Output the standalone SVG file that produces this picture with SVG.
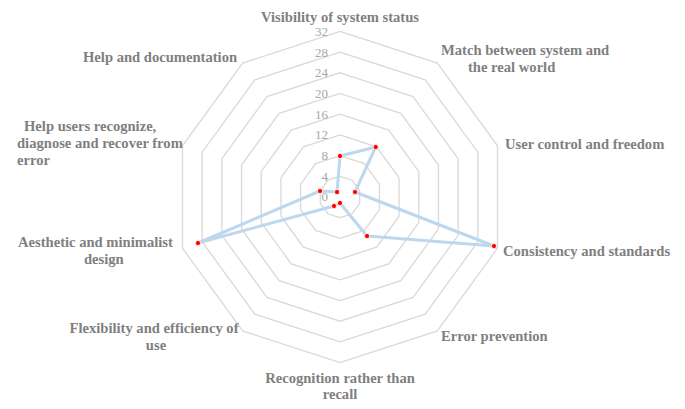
<svg xmlns="http://www.w3.org/2000/svg" width="685" height="409" viewBox="0 0 685 409">
<style>
.ring{fill:none;stroke:#d9d9d9;stroke-width:1.3;vector-effect:non-scaling-stroke}
.lbl{font-family:"Liberation Serif",serif;font-weight:bold;font-size:14.6px;fill:#7f7f7f}
.tick{font-family:"Liberation Serif",serif;font-size:13px;fill:#a6a6a6;text-anchor:end}
.dot{fill:#ff0000;stroke:#fff;stroke-width:0.8}
</style>
<rect width="685" height="409" fill="#fff"/>
<g id="grid" transform="translate(340,197)">
<polygon class="ring" transform="scale(20.7)" points="0,-1 .5878,-.809 .9511,-.309 .9511,.309 .5878,.809 0,1 -.5878,.809 -.9511,.309 -.9511,-.309 -.5878,-.809"/>
<polygon class="ring" transform="scale(41.4)" points="0,-1 .5878,-.809 .9511,-.309 .9511,.309 .5878,.809 0,1 -.5878,.809 -.9511,.309 -.9511,-.309 -.5878,-.809"/>
<polygon class="ring" transform="scale(62.1)" points="0,-1 .5878,-.809 .9511,-.309 .9511,.309 .5878,.809 0,1 -.5878,.809 -.9511,.309 -.9511,-.309 -.5878,-.809"/>
<polygon class="ring" transform="scale(82.8)" points="0,-1 .5878,-.809 .9511,-.309 .9511,.309 .5878,.809 0,1 -.5878,.809 -.9511,.309 -.9511,-.309 -.5878,-.809"/>
<polygon class="ring" transform="scale(103.5)" points="0,-1 .5878,-.809 .9511,-.309 .9511,.309 .5878,.809 0,1 -.5878,.809 -.9511,.309 -.9511,-.309 -.5878,-.809"/>
<polygon class="ring" transform="scale(124.2)" points="0,-1 .5878,-.809 .9511,-.309 .9511,.309 .5878,.809 0,1 -.5878,.809 -.9511,.309 -.9511,-.309 -.5878,-.809"/>
<polygon class="ring" transform="scale(144.9)" points="0,-1 .5878,-.809 .9511,-.309 .9511,.309 .5878,.809 0,1 -.5878,.809 -.9511,.309 -.9511,-.309 -.5878,-.809"/>
<polygon class="ring" transform="scale(165.6)" points="0,-1 .5878,-.809 .9511,-.309 .9511,.309 .5878,.809 0,1 -.5878,.809 -.9511,.309 -.9511,-.309 -.5878,-.809"/>
</g>
<g id="ticks">
<text class="tick" x="328" y="201">0</text>
<text class="tick" x="328" y="181">4</text>
<text class="tick" x="328" y="160">8</text>
<text class="tick" x="328" y="139">12</text>
<text class="tick" x="328" y="119">16</text>
<text class="tick" x="328" y="98">20</text>
<text class="tick" x="328" y="77">24</text>
<text class="tick" x="328" y="57">28</text>
<text class="tick" x="328" y="36">32</text>
</g>
<g id="connectors">
<polygon points="340,156 375.7,147 355,192 494,246 367,236 340,203 334,206 198,243 320,191 337,192" fill="none" stroke="#bdd7ee" stroke-width="3" stroke-linejoin="round"/>
</g>
<g id="dots">
<circle class="dot" cx="340" cy="156" r="2.6"/>
<circle class="dot" cx="375.7" cy="147" r="2.6"/>
<circle class="dot" cx="355" cy="192" r="2.6"/>
<circle class="dot" cx="494" cy="246" r="2.6"/>
<circle class="dot" cx="367" cy="236" r="2.6"/>
<circle class="dot" cx="340" cy="203" r="2.6"/>
<circle class="dot" cx="334" cy="206" r="2.6"/>
<circle class="dot" cx="198" cy="243" r="2.6"/>
<circle class="dot" cx="320" cy="191" r="2.6"/>
<circle class="dot" cx="337" cy="192" r="2.6"/>
</g>
<g id="n0"><text class="lbl" x="340" y="22" text-anchor="middle">Visibility of system status</text></g>
<g id="n1"><text class="lbl" x="441" y="55">Match between system and</text><text class="lbl" x="468" y="72">the real world</text></g>
<g id="n2"><text class="lbl" x="505" y="149">User control and freedom</text></g>
<g id="n3"><text class="lbl" x="503" y="256">Consistency and standards</text></g>
<g id="n4"><text class="lbl" x="441" y="341">Error prevention</text></g>
<g id="n5"><text class="lbl" x="340" y="383" text-anchor="middle">Recognition rather than</text><text class="lbl" x="340" y="399" text-anchor="middle">recall</text></g>
<g id="n6"><text class="lbl" x="154" y="333" text-anchor="middle">Flexibility and efficiency of</text><text class="lbl" x="156" y="350" text-anchor="middle">use</text></g>
<g id="n7"><text class="lbl" x="18" y="247">Aesthetic and minimalist</text><text class="lbl" x="84" y="264">design</text></g>
<g id="n8"><text class="lbl" x="24" y="131">Help users recognize,</text><text class="lbl" x="17" y="148">diagnose and recover from</text><text class="lbl" x="17" y="165">error</text></g>
<g id="n9"><text class="lbl" x="83" y="62">Help and documentation</text></g>
</svg>
